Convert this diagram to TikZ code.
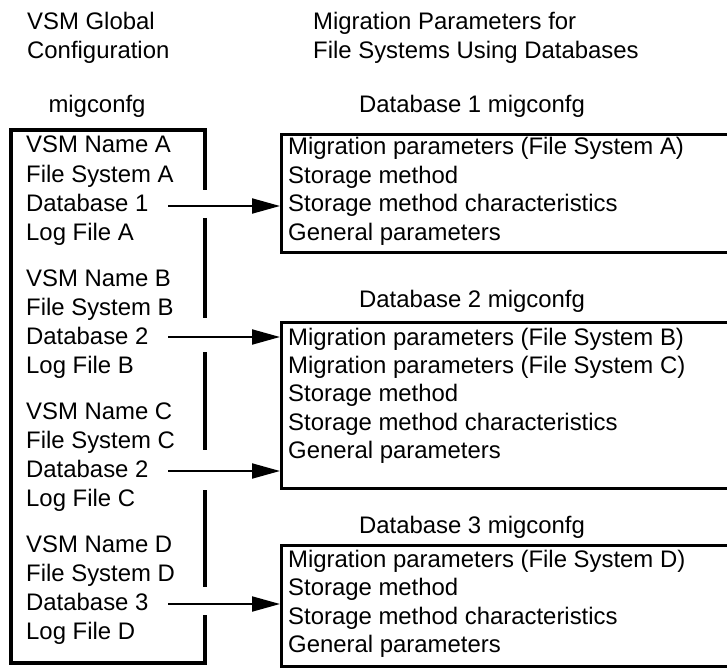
\documentclass[tikz,border=0pt]{standalone}
\usepackage{fontspec}
\setmainfont{Liberation Sans}
\usetikzlibrary{arrows.meta}
\begin{document}
\begin{tikzpicture}[x=1pt,y=-1pt,font=\fontsize{23.9}{28}\selectfont]
		\tikzset{>={Triangle[length=28pt,width=15pt]}}
		\tikzset{txt/.style={anchor=base west,inner sep=0pt},
			ttl/.style={anchor=base,inner sep=0pt},
			cfgbox/.style={draw,line width=3.2pt,anchor=north west,inner sep=0pt,minimum width=449pt},
			edge/.style={line width=3.2pt}}
		\useasboundingbox (0,0) rectangle (727,668);
		% headings
		\node[txt] (glob1) at (27,30) {VSM Global};
		\node[txt] (glob2) at (27,59) {Configuration};
		\node[txt] (mig1) at (313,30) {Migration Parameters for};
		\node[txt] (mig2) at (313,59) {File Systems Using Databases};
		\node[ttl] (gcfg) at (97,113) {migconfg};
		% global migconfg, one group per file system
		\foreach \g/\db [count=\i] in {A/1,B/2,C/2,D/3} {
			\pgfmathsetmacro{\yb}{153+133*(\i-1)}
			\node[txt] (vsm\g) at (26,\yb) {VSM Name \g};
			\node[txt] (fs\g) at (26,\yb+29.3) {File System \g};
			\node[txt] (db\g) at (26,\yb+58.6) {Database \db};
			\node[txt] (log\g) at (26,\yb+87.9) {Log File \g};
		}
		\draw [edge] (205,190) -- (205,130) -- (11,130) -- (11,663) -- (205,663) -- (205,615);
		\draw [edge] (205,218) -- (205,318);
		\draw [edge] (205,352) -- (205,450);
		\draw [edge] (205,490) -- (205,587);
		% database migconfg boxes
		\node[cfgbox,minimum height=118pt] (cfg1) at (280,133) {};
		\node[cfgbox,minimum height=166pt] (cfg2) at (280,321) {};
		\node[cfgbox,minimum height=121pt] (cfg3) at (280,544) {};
		\node[ttl] (ttl1) at (472,113) {Database 1 migconfg};
		\node[ttl] (ttl2) at (472,307) {Database 2 migconfg};
		\node[ttl] (ttl3) at (472,533) {Database 3 migconfg};
		\foreach \s [count=\k] in {Migration parameters (File System A),Storage method,Storage method characteristics,General parameters}
			\node[txt] (p1\k) at (288,{155+28.4*(\k-1)}) {\s};
		\foreach \s [count=\k] in {Migration parameters (File System B),Migration parameters (File System C),Storage method,Storage method characteristics,General parameters}
			\node[txt] (p2\k) at (288,{345+28.4*(\k-1)}) {\s};
		\foreach \s [count=\k] in {Migration parameters (File System D),Storage method,Storage method characteristics,General parameters}
			\node[txt] (p3\k) at (288,{567+28.6*(\k-1)}) {\s};
		% arrows
		\coordinate (aA) at (168,206);
		\coordinate (aB) at (168,337);
		\coordinate (aC) at (168,471);
		\coordinate (aD) at (168,604);
		\draw [->,line width=2pt] (aA) -- (aA -| cfg1.west);
		\draw [->,line width=2pt] (aB) -- (aB -| cfg2.west);
		\draw [->,line width=2pt] (aC) -- (aC -| cfg2.west);
		\draw [->,line width=2pt] (aD) -- (aD -| cfg3.west);
	    \end{tikzpicture}
\end{document}
